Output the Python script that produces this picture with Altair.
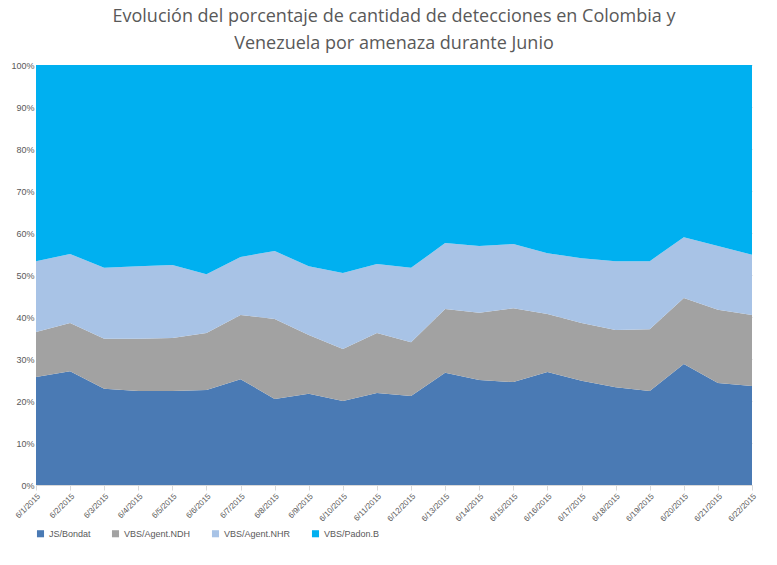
import altair as alt
import pandas as pd

dates = [f"6/{d}/2015" for d in range(1, 23)]
# cumulative tops (percent)
top_bondat = [25.7, 27.1, 22.9, 22.4, 22.4, 22.6, 25.2, 20.5, 21.7, 20.0, 21.9,
              21.2, 26.7, 25.0, 24.5, 26.9, 24.8, 23.3, 22.4, 28.8, 24.3, 23.6]
top_ndh = [36.4, 38.6, 34.8, 34.8, 35.0, 36.2, 40.5, 39.5, 35.7, 32.4, 36.2,
           34.0, 41.9, 41.0, 42.1, 40.7, 38.6, 36.9, 37.1, 44.5, 41.7, 40.5]
top_nhr = [53.3, 55.0, 51.7, 52.1, 52.4, 50.2, 54.3, 55.7, 52.1, 50.5, 52.6,
           51.7, 57.6, 56.9, 57.4, 55.2, 54.0, 53.3, 53.3, 59.0, 56.9, 54.8]

series = ["JS/Bondat", "VBS/Agent.NDH", "VBS/Agent.NHR", "VBS/Padon.B"]
colors = ["#4a7ab4", "#a2a2a2", "#a8c3e6", "#00b0f0"]

rows = []
for i, d in enumerate(dates):
    vals = [top_bondat[i], top_ndh[i] - top_bondat[i], top_nhr[i] - top_ndh[i], 100 - top_nhr[i]]
    for k, (s, v) in enumerate(zip(series, vals)):
        rows.append({"date": d, "serie": s, "value": v / 100, "ord": k})
df = pd.DataFrame(rows)

chart = alt.Chart(df).mark_area(opacity=1).encode(
    x=alt.X("date:O", sort=dates, scale=alt.Scale(padding=0), title=None,
            axis=alt.Axis(labelAngle=-45, labelFontSize=8, labelColor="#595959",
                          domainColor="#d9d9d9", tickColor="#d9d9d9", ticks=True, tickSize=5,
                          labelFont="Liberation Sans")),
    y=alt.Y("value:Q", stack="normalize", title=None,
            axis=alt.Axis(format="%", values=[i / 10 for i in range(11)], labelFontSize=9,
                          labelColor="#595959", gridColor="#d9d9d9", domain=False, ticks=False,
                          labelFont="Liberation Sans")),
    color=alt.Color("serie:N", sort=series, scale=alt.Scale(domain=series, range=colors),
                    legend=alt.Legend(orient="bottom", title=None, symbolType="square",
                                      symbolSize=50, labelFontSize=9, labelColor="#595959",
                                      labelFont="Liberation Sans", columnPadding=20, offset=6)),
    order=alt.Order("ord:Q", sort="ascending"),
).properties(
    width=716, height=420,
    title=alt.TitleParams(
        ["Evolución del porcentaje de cantidad de detecciones en Colombia y",
         "Venezuela por amenaza durante Junio"],
        fontSize=18, font="Open Sans", fontWeight="normal", color="#595959",
        anchor="middle", offset=8, lineHeight=27),
    padding={"left": 2, "top": 0, "right": 10, "bottom": 0},
).configure_view(strokeWidth=0)

chart.save("out.html", embed_options={"renderer": "svg", "actions": False})
